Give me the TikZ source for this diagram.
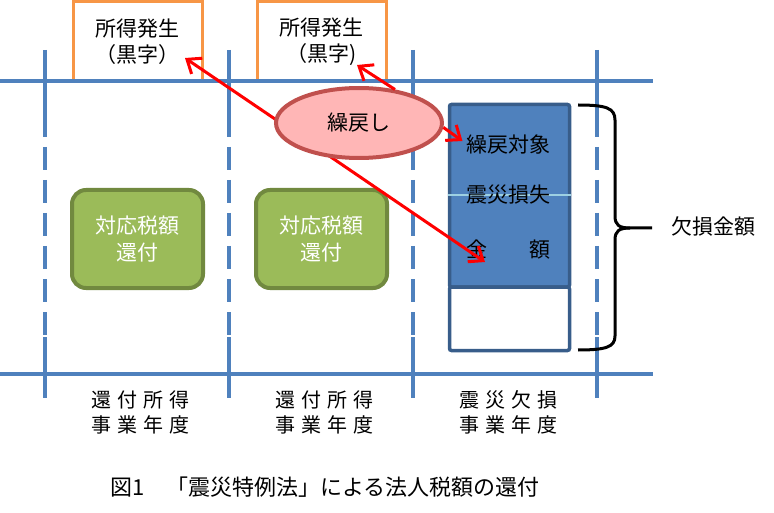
\documentclass[tikz,border=0pt]{standalone}
\usepackage{fontspec}
\setmainfont{Noto Sans CJK JP}
\newfontfamily\spacedjp{Noto Sans CJK JP}[LetterSpace=30]
\usetikzlibrary{arrows.meta,shapes.geometric}
\definecolor{gridblue}{HTML}{4F81BD}
\definecolor{gainorange}{HTML}{F79646}
\definecolor{refundgreen}{HTML}{9BBB59}
\definecolor{refunddark}{HTML}{71893F}
\definecolor{carrypink}{HTML}{FFB6B6}
\definecolor{carryborder}{HTML}{C0504D}
\definecolor{lossblue}{HTML}{4F81BD}
\definecolor{lossborder}{HTML}{385D8A}
\definecolor{lightcyan}{HTML}{9DD0E2}

\begin{document}
\begin{tikzpicture}[x=1pt, y=-1pt,
	gridline/.style={draw=gridblue, line width=3.5pt},
	gridgap/.style={gridline, dash pattern=on 23pt off 10pt, dash phase=23pt},
	gain/.style={draw=gainorange, line width=3pt, minimum width=129pt, minimum height=79pt, align=center, font=\fontsize{21}{26}\selectfont},
	refund/.style={draw=refunddark, fill=refundgreen, line width=4pt, rounded corners=14pt, minimum width=131pt, minimum height=98pt, align=center, text=white, font=\fontsize{21}{27}\selectfont},
	carry/.style={ellipse, draw=carryborder, fill=carrypink, line width=4pt, minimum width=166pt, minimum height=70pt, inner sep=0pt, font=\fontsize{21}{26}\selectfont},
	loss/.style={draw=lossborder, line width=3.5pt, rounded corners=2pt, minimum width=120pt, inner sep=0pt},
	losstext/.style={font=\fontsize{21}{26}\selectfont},
	backarrow/.style={draw=red, line width=3pt, -{Straight Barb[length=12pt,width=19pt]}},
	yearlabel/.style={align=center, font=\spacedjp\fontsize{20}{25}\selectfont},
	bracestyle/.style={draw=black, line width=3pt}]
	\useasboundingbox (0,0) rectangle (774,513);

	% income boxes
	\node[gain] (g1) at (137.5,41.5) {所得発生\\（黒字）};
	\node[gain] (g2) at (321.5,41.5) {所得発生\\（黒字)};

	% year grid
	\draw[gridline] (0,81) -- (653,81);
	\draw[gridline] (0,374) -- (653,374);
	\draw[gridline] (45,50) -- (45,137) (45,337) -- (45,398);
	\draw[gridgap] (45,137) -- (45,337);
	\draw[gridline] (229,50) -- (229,137) (229,337) -- (229,398);
	\draw[gridgap] (229,137) -- (229,337);
	\draw[gridline] (413,50) -- (413,137) (413,337) -- (413,398);
	\draw[gridgap] (413,137) -- (413,337);
	\draw[gridline] (597,50) -- (597,137) (597,337) -- (597,398);
	\draw[gridgap] (597,137) -- (597,337);

	% refunds
	\node[refund] (r1) at (137.5,239) {対応税額\\還付};
	\node[refund] (r2) at (321.5,239) {対応税額\\還付};

	% loss column
	\node[loss, fill=lossblue, minimum height=182.5pt] (lossup) at (509.5,195.75) {};
	\node[loss, fill=white, minimum height=63.5pt] (losslow) at (509.5,318.75) {};
	\draw[lightcyan, line width=2.5pt] (lossup.west |- 0,195) -- (lossup.east |- 0,195);
	\node[losstext] (t1) at (508,145) {繰戻対象};
	\node[losstext] (t2) at (508,195) {震災損失};
	\node[losstext] (t3) at (508,250) {金　　額};

	% carry back
	\coordinate (cross) at (300,136);
	\coordinate (g1tip) at (185,58);
	\coordinate (g2tip) at (357,65);
	\coordinate (kintip) at (485,262);
	\draw[backarrow] (cross) to (g1tip);
	\draw[backarrow] (cross) to (kintip);
	\node[carry] (c) at (359,123) {繰戻し};
	\draw[backarrow] (c.43) to (g2tip);
	\draw[backarrow] (c.-3) to ([yshift=4pt]t1.west);

	% brace
	\draw[bracestyle] (578,105) .. controls (606,105) and (615,108) .. (615,120) -- (615,216)
		.. controls (615,225) and (619,228) .. (630,228) -- (652,228);
	\draw[bracestyle] (630,228) .. controls (619,228) and (615,231) .. (615,240) -- (615,336)
		.. controls (615,347) and (606,350) .. (578,350);
	\node[losstext] (deficit) at (713,226) {欠損金額};

	% years
	\node[yearlabel] (y1) at (140,412) {還付所得\\事業年度};
	\node[yearlabel] (y2) at (324,412) {還付所得\\事業年度};
	\node[yearlabel] (y3) at (508,412) {震災欠損\\事業年度};

	\node[font=\fontsize{22}{26}\selectfont] (cap) at (325,487) {図1　「震災特例法」による法人税額の還付};
\end{tikzpicture}
\end{document}
